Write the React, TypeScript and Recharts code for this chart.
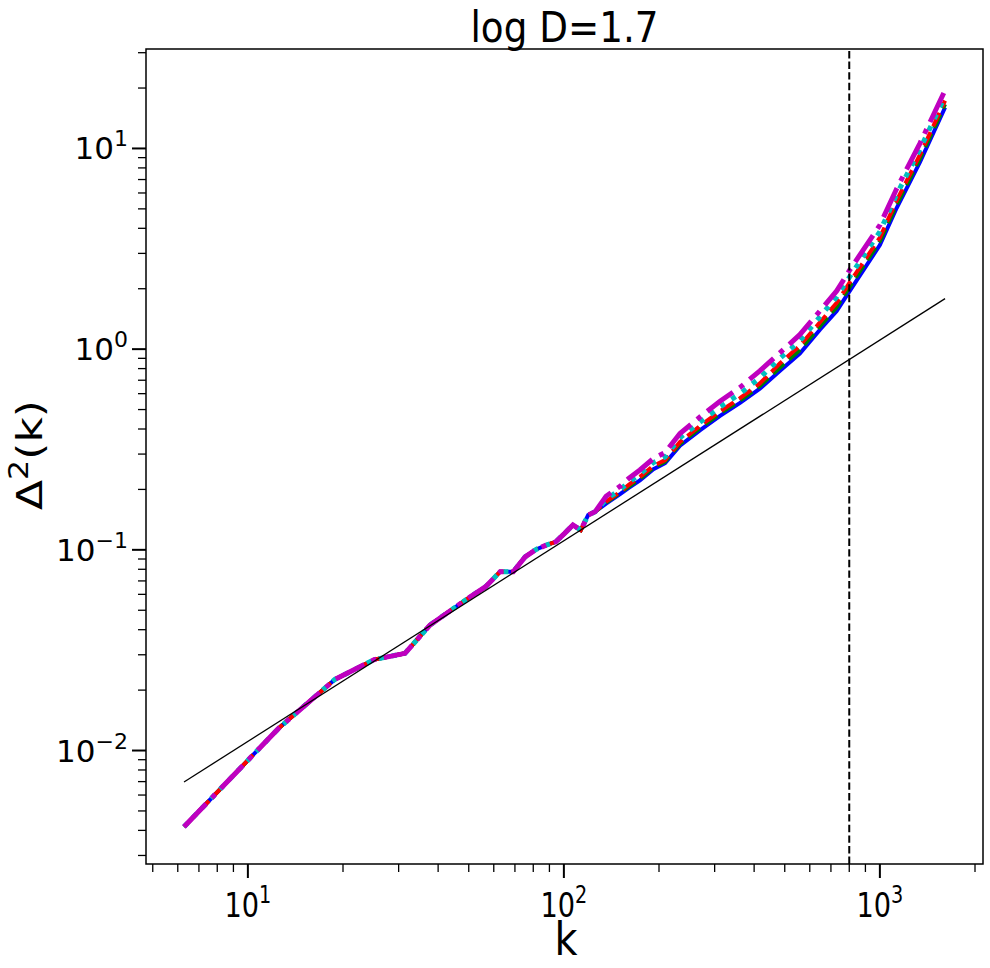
import { LineChart, Line, XAxis, YAxis, ReferenceLine, ReferenceArea } from "recharts"

// wavenumbers k = 2*pi*n at low k, all runs agree here
const kLow = [6.28, 12.57, 18.85, 25.13, 31.42, 37.7, 43.98, 50.27, 56.55, 62.83, 69.12, 75.4, 81.68, 87.96, 94.25, 100.53, 106.81, 113.1, 119.38, 125.66]
const sharedLow = [0.00417, 0.013, 0.0226, 0.0284, 0.0305, 0.0422, 0.0501, 0.058, 0.0655, 0.0778, 0.0778, 0.0923, 0.1005, 0.1056, 0.1097, 0.1208, 0.133, 0.1255, 0.149, 0.155]

// higher k, runs split apart
const kHigh = [136, 151, 160, 174, 192, 209, 233, 270, 312, 361, 417, 483, 558, 646, 730, 803, 1000, 1130, 1339, 1608]
const blueHigh = [0.17, 0.19, 0.203, 0.222, 0.252, 0.27, 0.33, 0.395, 0.465, 0.54, 0.635, 0.78, 0.95, 1.25, 1.55, 1.95, 3.3, 5.05, 8.55, 16.0]
const greenHigh = [0.172, 0.193, 0.206, 0.226, 0.257, 0.275, 0.338, 0.405, 0.478, 0.555, 0.655, 0.81, 0.99, 1.3, 1.62, 2.05, 3.45, 5.25, 8.9, 16.6]
const redHigh = [0.174, 0.195, 0.21, 0.231, 0.262, 0.28, 0.345, 0.415, 0.49, 0.57, 0.675, 0.85, 1.04, 1.36, 1.7, 2.15, 3.6, 5.5, 9.3, 17.3]
const cyanHigh = [0.178, 0.2, 0.216, 0.238, 0.272, 0.29, 0.362, 0.433, 0.515, 0.6, 0.72, 0.9, 1.1, 1.45, 1.82, 2.3, 3.85, 5.9, 9.9, 18.2]
const magentaHigh = [0.185, 0.208, 0.226, 0.25, 0.285, 0.305, 0.38, 0.46, 0.55, 0.645, 0.78, 0.96, 1.18, 1.55, 1.95, 2.48, 4.15, 6.3, 10.6, 19.5]

// linear reference line, Delta^2 ~ k
const kLine = [6.28, 1608]
const lineVals = [0.00697, 1.785]

const kCut = 800

const xTicks = [5, 6, 7, 8, 9, 10, 20, 30, 40, 50, 60, 70, 80, 90, 100, 200, 300, 400, 500, 600, 700, 800, 900, 1000, 2000]
const yTicks = [0.003, 0.004, 0.005, 0.006, 0.007, 0.008, 0.009, 0.01, 0.02, 0.03, 0.04, 0.05, 0.06, 0.07, 0.08, 0.09, 0.1,
  0.2, 0.3, 0.4, 0.5, 0.6, 0.7, 0.8, 0.9, 1, 2, 3, 4, 5, 6, 7, 8, 9, 10, 20, 30]

const kAll = kLow.concat(kHigh)
const pick = (high: number[], i: number) => (i < kLow.length ? sharedLow[i] : high[i - kLow.length])
const rows = kAll.map((k, i) => ({
  k,
  blue: pick(blueHigh, i),
  green: pick(greenHigh, i),
  red: pick(redHigh, i),
  cyan: pick(cyanHigh, i),
  magenta: pick(magentaHigh, i),
}))
const lineRows = kLine.map((k, i) => ({ k, v: lineVals[i] }))

const font = "'DejaVu Sans', sans-serif"
const isMajor = (v: number) => Math.abs(Math.log10(v) - Math.round(Math.log10(v))) < 1e-6

function XTick(props: any) {
  const { x, y, payload } = props
  const major = isMajor(payload.value)
  const p = Math.round(Math.log10(payload.value))
  return (
    <g>
      <line x1={x} x2={x} y1={y} y2={y + (major ? 14 : 8)} stroke="#000" strokeWidth={major ? 2 : 1.3} />
      {major && (
        <g transform={`translate(${x} ${y + 53}) scale(0.8 1)`}>
          <text x={0} y={0} textAnchor="middle" fontFamily={font} fontSize={34} fill="#000">
            10<tspan dy={-14} fontSize={24}>{p}</tspan>
          </text>
        </g>
      )}
    </g>
  )
}

function YTick(props: any) {
  const { x, y, payload } = props
  const major = isMajor(payload.value)
  const p = Math.round(Math.log10(payload.value))
  return (
    <g>
      <line x1={x} x2={x - (major ? 14 : 8)} y1={y} y2={y} stroke="#000" strokeWidth={major ? 2 : 1.3} />
      {major && (
        <text x={x - 18} y={y + 11} textAnchor="end" fontFamily={font} fontSize={31} fill="#000">
          10<tspan dy={-13} fontSize={22}>{p < 0 ? "\u2212" + -p : p}</tspan>
        </text>
      )}
    </g>
  )
}

export default function App() {
  return (
    <div style={{ position: "absolute", left: 0, top: 0, width: 990, height: 968, background: "#fff" }}>
      <LineChart width={990} height={968} data={rows} margin={{ top: 49, right: 7, bottom: 0, left: 0 }}>
        <XAxis
          dataKey="k"
          type="number"
          scale="log"
          domain={[4.76, 2120]}
          ticks={xTicks}
          allowDataOverflow
          height={104}
          axisLine={false}
          tickLine={false}
          tickSize={0}
          tickMargin={0}
          tick={<XTick />}
          interval={0}
        />
        <YAxis
          type="number"
          scale="log"
          domain={[0.00272, 31.3]}
          ticks={yTicks}
          allowDataOverflow
          width={146}
          axisLine={false}
          tickLine={false}
          tickSize={0}
          tickMargin={0}
          tick={<YTick />}
          interval={0}
        />
        <ReferenceArea x1={4.76} x2={2120} y1={0.00272} y2={31.3} fill="none" stroke="#000" strokeWidth={1.5} ifOverflow="visible" />
        <Line data={rows} dataKey="blue" stroke="#0000ff" strokeWidth={4} dot={false} isAnimationActive={false} />
        <Line data={rows} dataKey="green" stroke="#008000" strokeWidth={4} strokeDasharray="14.8 6.4" dot={false} isAnimationActive={false} />
        <Line data={rows} dataKey="red" stroke="#ff0000" strokeWidth={4} strokeDasharray="14.8 6.4" dot={false} isAnimationActive={false} />
        <Line data={rows} dataKey="cyan" stroke="#00bfbf" strokeWidth={5} strokeDasharray="5 8" dot={false} isAnimationActive={false} />
        <Line data={rows} dataKey="magenta" stroke="#bf00bf" strokeWidth={5} strokeDasharray="32 8 5 8" dot={false} isAnimationActive={false} />
        <Line data={lineRows} dataKey="v" stroke="#000" strokeWidth={1.3} dot={false} isAnimationActive={false} />
        <ReferenceLine x={kCut} stroke="#000" strokeWidth={2} strokeDasharray="7.4 3.2" />
        <text x={564.5} y={42} textAnchor="middle" fontFamily={font} fontSize={42} fill="#000"
          textLength={188} lengthAdjust="spacingAndGlyphs">log D=1.7</text>
        <text x={566} y={955} textAnchor="middle" fontFamily={font} fontSize={46} fill="#000"
          textLength={23} lengthAdjust="spacingAndGlyphs">k</text>
        <g transform="translate(42 455) rotate(-90) scale(1.22 1)">
          <text x={0} y={0} textAnchor="middle" fontFamily={font} fontSize={36} fill="#000">
            Δ<tspan dy={-14} fontSize={26}>2</tspan><tspan dy={14}>(k)</tspan>
          </text>
        </g>
      </LineChart>
    </div>
  )
}
